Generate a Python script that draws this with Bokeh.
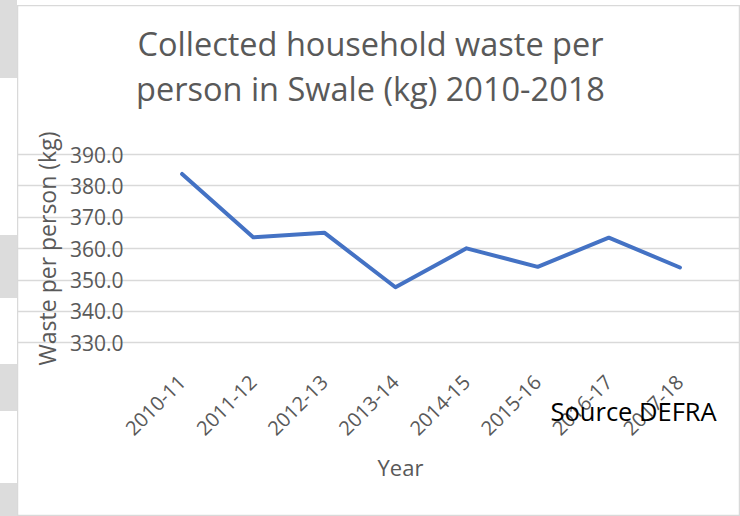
import math
from bokeh.plotting import figure
from bokeh.models import (Range1d, FixedTicker, Label, Div, NumeralTickFormatter,
                          LinearAxis, Grid)
from bokeh.layouts import row, column
from bokeh.embed import file_html
from bokeh.resources import INLINE

# ---- data ----
years = ["2010-11", "2011-12", "2012-13", "2013-14", "2014-15", "2015-16", "2016-17", "2017-18"]
waste_kg = [383.8, 363.6, 365.1, 347.7, 360.1, 354.2, 363.5, 354.0]
y_ticks = [330, 340, 350, 360, 370, 380, 390]
title_lines = ["Collected household waste per", "person in Swale (kg) 2010-2018"]
y_label = "Waste per person (kg)"
x_label = "Year"
source_note = "Source DEFRA"

FONT = "Open Sans"
GREY = "#595959"

# ---- geometry (page pixels) ----
FIG_X0, FIG_Y0 = 17, 5          # figure origin on the page
FIG_W, FIG_H = 723, 511
PLOT_L, PLOT_R, PLOT_T, PLOT_B = 146, 715, 154, 342.3   # chart plot area
n = len(years)
y_lo, y_hi = y_ticks[0], y_ticks[-1]
px_x = (PLOT_R - PLOT_L) / n
px_y = (PLOT_B - PLOT_T) / (y_hi - y_lo)
x_start = -0.5 - (PLOT_L - FIG_X0) / px_x
x_end = (n - 0.5) + (FIG_X0 + FIG_W - PLOT_R) / px_x
y_end = y_hi + (PLOT_T - FIG_Y0) / px_y
y_start = y_lo - (FIG_Y0 + FIG_H - PLOT_B) / px_y

x_idx = list(range(n))

p = figure(
    width=FIG_W, height=FIG_H, title=None,
    x_range=Range1d(x_start, x_end), y_range=Range1d(y_start, y_end),
    x_axis_type=None, y_axis_type=None,
    output_backend="svg", toolbar_location=None,
    min_border=0, min_border_left=0, min_border_right=0, min_border_top=0, min_border_bottom=0,
    margin=0,
)
p.outline_line_color = "#D9D9D9"
p.outline_line_width = 1.5
p.background_fill_color = "white"
p.border_fill_color = "white"

# y axis at the plot-area's left edge
yaxis = LinearAxis(fixed_location=-0.5, bounds=(y_lo, y_hi))
yaxis.ticker = FixedTicker(ticks=y_ticks)
yaxis.formatter = NumeralTickFormatter(format="0.0")
yaxis.axis_line_color = None
yaxis.major_tick_line_color = None
yaxis.minor_tick_line_color = None
yaxis.major_label_standoff = 17
yaxis.major_label_text_font = FONT
yaxis.major_label_text_font_size = "21px"
yaxis.major_label_text_color = GREY
yaxis.axis_label = y_label
yaxis.axis_label_text_font = FONT
yaxis.axis_label_text_font_size = "23px"
yaxis.axis_label_text_font_style = "normal"
yaxis.axis_label_text_color = GREY
yaxis.axis_label_standoff = 4
p.add_layout(yaxis, "left")

# x axis (categories) along the 330 line
xaxis = LinearAxis(fixed_location=y_lo, bounds=(-0.5, n - 0.5))
xaxis.ticker = FixedTicker(ticks=x_idx)
xaxis.major_label_overrides = {i: y for i, y in zip(x_idx, years)}
xaxis.axis_line_color = None
xaxis.major_tick_line_color = None
xaxis.minor_tick_line_color = None
xaxis.major_label_orientation = math.pi / 4
xaxis.major_label_standoff = 30
xaxis.major_label_text_font = FONT
xaxis.major_label_text_font_size = "20px"
xaxis.major_label_text_color = GREY
p.add_layout(xaxis, "below")

p.add_layout(Grid(dimension=1, ticker=yaxis.ticker, bounds=(-0.5, n - 0.5),
                  grid_line_color="#D9D9D9", grid_line_width=1.5))

p.line(x_idx, waste_kg, line_color="#4472C4", line_width=4, line_join="round", line_cap="round")

# texts (screen units relative to the figure's bottom-left)
def sx(px):
    return px - FIG_X0

def sy(py):
    return FIG_Y0 + FIG_H - py

for t, base in zip(title_lines, [43, 88]):
    p.add_layout(Label(x=sx(370), y=sy(base), x_units="screen", y_units="screen", text=t,
                       text_font=FONT, text_font_size="32.5px", text_color=GREY,
                       text_align="center", text_baseline="alphabetic"))

p.add_layout(Label(x=sx(400), y=sy(466), x_units="screen", y_units="screen", text=x_label,
                   text_font=FONT, text_font_size="22px", text_color=GREY,
                   text_align="center", text_baseline="alphabetic"))

p.add_layout(Label(x=sx(550), y=sy(410), x_units="screen", y_units="screen", text=source_note,
                   text_font=FONT, text_font_size="25.5px", text_color="black",
                   text_align="left", text_baseline="alphabetic"))

G, W = "#DCDCDC", "#FFFFFF"
strip_bg = ("linear-gradient(to bottom, "
            f"{G} 0px, {G} 78px, {W} 78px, {W} 235px, {G} 235px, {G} 298px, "
            f"{W} 298px, {W} 364px, {G} 364px, {G} 411px, {W} 411px, {W} 483px, "
            f"{G} 483px, {G} 516px)")
strip = Div(width=FIG_X0, height=FIG_Y0 + FIG_H, margin=0, styles={"background": strip_bg})
top_gap = Div(width=FIG_W, height=FIG_Y0, margin=0)
layout = row(strip, column(top_gap, p, spacing=0, margin=0), spacing=0, margin=0)

open("out.html", "w").write(file_html(layout, INLINE))
